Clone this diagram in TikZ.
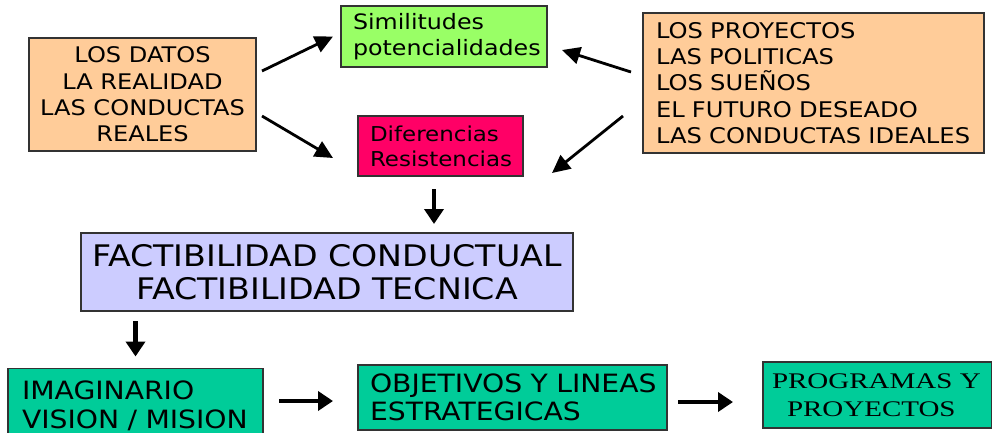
\documentclass[tikz,border=0pt]{standalone}
\usepackage{fontspec}
\usetikzlibrary{arrows.meta}
\newfontfamily\vfont[FakeStretch=1.12]{DejaVu Sans}
\newfontfamily\tfont[FakeStretch=1.3]{Liberation Serif}
\newcommand\setfs[2]{\fontsize{#1}{#2}\selectfont}
\definecolor{orng}{HTML}{FFCC99}
\definecolor{lgreen}{HTML}{99FF66}
\definecolor{magen}{HTML}{FF0066}
\definecolor{lavnd}{HTML}{CCCCFF}
\definecolor{teal}{HTML}{00CC99}
\definecolor{bordc}{HTML}{333333}
\begin{document}
\begin{tikzpicture}[x=1pt,y=-1pt,
  box/.style={draw=bordc, line width=1.1pt, inner ysep=0pt, outer sep=0pt, text=black},
  thinarr/.style={line width=2.8pt, -{Triangle[length=18pt,width=17pt]}},
  thickarr/.style={line width=4.5pt, -{Triangle[length=15pt,width=19pt]}}
]
\useasboundingbox (0,0) rectangle (993,432);

% top left
\node[box, fill=orng, minimum width=227pt, minimum height=113pt, inner xsep=0pt,
      align=center, font=\vfont\setfs{21.5}{26.3}] (datos) at (142.5,94.5)
  {LOS DATOS\\LA REALIDAD\\LAS CONDUCTAS\\REALES};

\node[box, fill=lgreen, minimum width=206pt, minimum height=61pt, inner xsep=12pt,
      text width=182pt, align=left, font=\vfont\setfs{21.2}{26}] (sim) at (444,36.5)
  {Similitudes\\potencialidades};

\node[box, fill=magen, minimum width=165pt, minimum height=60pt, inner xsep=12pt,
      text width=141pt, align=left, font=\vfont\setfs{20.5}{25}] (dif) at (440.5,146)
  {Diferencias\\Resistencias};

\node[box, fill=orng, minimum width=341pt, minimum height=140pt, inner xsep=13pt,
      text width=315pt, align=left, font=\vfont\setfs{21.6}{26.25}] (ideal) at (813.5,83)
  {LOS PROYECTOS\\LAS POLITICAS\\LOS SUEÑOS\\EL FUTURO DESEADO\\\mbox{LAS CONDUCTAS IDEALES}};

\node[box, fill=lavnd, minimum width=492pt, minimum height=78pt, inner xsep=0pt,
      align=center, font=\vfont\setfs{29.7}{33}] (fact) at (327,272)
  {FACTIBILIDAD CONDUCTUAL\\FACTIBILIDAD TECNICA};

\node[box, fill=teal, minimum width=255pt, minimum height=75pt, inner xsep=14pt,
      text width=227pt, align=left, font=\vfont\setfs{25.2}{29}] (imag) at (135.5,406)
  {IMAGINARIO\\\mbox{VISION / MISION}};

\node[box, fill=teal, minimum width=309pt, minimum height=65pt, inner xsep=12pt,
      text width=285pt, align=left, font=\vfont\setfs{25.2}{28}] (obj) at (512.5,397.5)
  {\mbox{OBJETIVOS Y LINEAS}\\ESTRATEGICAS};

\node[box, fill=teal, minimum width=228.5pt, minimum height=66pt, inner xsep=9pt,
      text width=210.5pt, align=left, font=\tfont\setfs{22.3}{28}] (prog) at (877.25,395)
  {\mbox{PROGRAMAS Y}\\\hspace*{15pt}PROYECTOS};

% arrows
\draw[thinarr] ([xshift=6pt,yshift=23.5pt]datos.east) -- ([xshift=-8pt]sim.west);
\draw[thinarr] ([xshift=6pt,yshift=-21.5pt]datos.east) -- ([xshift=-25pt,yshift=-12pt]dif.west);
\draw[thinarr] ([xshift=-12pt,yshift=11pt]ideal.west) -- ([xshift=15pt,yshift=-13.5pt]sim.east);
\draw[thinarr] ([xshift=-20pt,yshift=-33pt]ideal.west) -- ([xshift=29pt,yshift=-27pt]dif.east);
\draw[thickarr] ([xshift=-6.5pt,yshift=-13pt]dif.south) -- ([xshift=-6.5pt,yshift=-48pt]dif.south);
\path (imag.north |- fact.south) ++(0,10) coordinate (a6s);
\draw[thickarr] (a6s) -- ([yshift=12pt]imag.north);
\draw[thickarr] ([xshift=16pt,yshift=5pt]imag.east) -- ([xshift=-25pt,yshift=-3.5pt]obj.west);
\draw[thickarr] ([xshift=11pt,yshift=-4.5pt]obj.east) -- ([xshift=-30pt,yshift=-7pt]prog.west);
\end{tikzpicture}
\end{document}
